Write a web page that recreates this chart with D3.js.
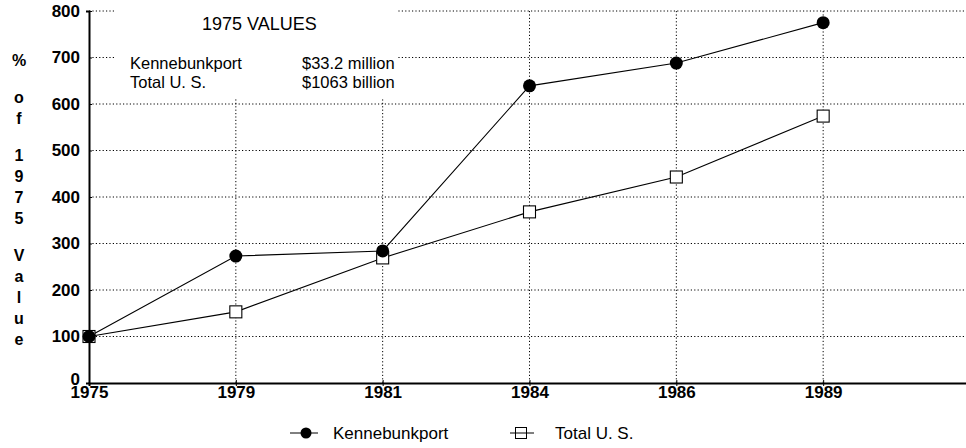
<!DOCTYPE html>
<html>
<head>
<meta charset="utf-8">
<script src="https://cdn.jsdelivr.net/npm/d3@7"></script>
<style>
  body { margin: 0; background: #fff; }
  svg { display: block; font-family: "Liberation Sans", Arial, sans-serif; }
  .grid line { stroke: #000; stroke-dasharray: 1.2 2.2; stroke-width: 1; }
</style>
</head>
<body>
<div class="lineplot"></div>
<script>
// data
var years = ["1975", "1979", "1981", "1984", "1986", "1989"];
var kennebunkport = [100, 273, 284, 639, 688, 775];
var totalUS = [100, 153, 269, 368, 443, 574];
var yTicks = [0, 100, 200, 300, 400, 500, 600, 700, 800];
var yLabelWords = ["%", "of", "1975", "Value"];
var noteTitle = "1975 VALUES";
var noteRows = [["Kennebunkport", "$33.2 million"], ["Total U. S.", "$1063 billion"]];
var legendNames = ["Kennebunkport", "Total U. S."];

var width = 966, height = 448;

var svg = d3.select(".lineplot").append("svg")
    .attr("width", width)
    .attr("height", height);

// scales - last slot left empty on the right
var x = d3.scaleLinear().domain([0, 6]).range([89, 970]);
var y = d3.scaleLinear().domain([0, 800]).range([383, 11]);

// grid
var grid = svg.append("g").attr("class", "grid");
grid.selectAll(".hg").data(yTicks.filter(d => d > 0))
  .enter().append("line")
    .attr("x1", x(0)).attr("x2", width)
    .attr("y1", d => y(d)).attr("y2", d => y(d));
grid.selectAll(".vg").data(years.slice(1))
  .enter().append("line")
    .attr("x1", (d, i) => x(i + 1)).attr("x2", (d, i) => x(i + 1))
    .attr("y1", y(800)).attr("y2", y(0));

// note box covers the grid
svg.append("rect")
  .attr("x", 115).attr("y", 0)
  .attr("width", 283).attr("height", 98)
  .style("fill", "#fff");

svg.append("text")
  .attr("x", 202).attr("y", 30)
  .style("font-size", "18px")
  .text(noteTitle);

noteRows.forEach(function(r, i) {
  svg.append("text").attr("x", 130).attr("y", 69 + i * 19)
    .style("font-size", "16.5px").text(r[0]);
  svg.append("text").attr("x", 302).attr("y", 69 + i * 19)
    .style("font-size", "16.5px").text(r[1]);
});

// lines
var line = d3.line()
    .x((d, i) => x(i))
    .y(d => y(d));

svg.append("path")
  .attr("d", line(kennebunkport))
  .attr("stroke", "#000").attr("stroke-width", 1.1)
  .style("fill", "none");

svg.append("path")
  .attr("d", line(totalUS))
  .attr("stroke", "#000").attr("stroke-width", 1.1)
  .style("fill", "none");

// axes
var yAxis = svg.append("g")
  .attr("transform", "translate(" + x(0) + ",0)")
  .call(d3.axisLeft(y).tickValues(yTicks).tickSize(3).tickPadding(6));
yAxis.select(".domain").attr("stroke-width", 2);
yAxis.selectAll(".tick line").attr("x2", 3);
yAxis.selectAll("text").style("font-size", "17px").style("font-weight", "bold").attr("fill", "#000");
// the 0 label sits a little higher so it clears 1975
yAxis.selectAll(".tick text").filter(d => d === 0).attr("y", -4);

var xAxis = svg.append("g")
  .attr("transform", "translate(0," + y(0) + ")")
  .call(d3.axisBottom(x).tickValues(d3.range(years.length))
    .tickFormat(i => years[i]).tickSize(3).tickPadding(0));
xAxis.select(".domain").attr("stroke-width", 2);
xAxis.selectAll(".tick line").attr("y1", -3);
xAxis.selectAll("text").style("font-size", "17px").style("font-weight", "bold").attr("fill", "#000");

// markers
svg.selectAll(".sq").data(totalUS)
  .enter().append("rect")
    .attr("x", (d, i) => x(i) - 6).attr("y", d => y(d) - 6)
    .attr("width", 12).attr("height", 12)
    .style("fill", "#fff").attr("stroke", "#000").attr("stroke-width", 1.1);

svg.selectAll(".dot").data(kennebunkport)
  .enter().append("circle")
    .attr("cx", (d, i) => x(i)).attr("cy", d => y(d))
    .attr("r", 6.5)
    .style("fill", "#000");

// y label, one character per row, a gap between words
var labelChars = [];
var cy = 60;
yLabelWords.forEach(function(w) {
  w.split("").forEach(function(c) { labelChars.push({c: c, y: cy}); cy += 21; });
  cy += 16;
});
svg.append("g").selectAll("text").data(labelChars)
  .enter().append("text")
    .attr("x", 19).attr("y", d => d.y + 6)
    .attr("text-anchor", "middle")
    .style("font-size", "16px").style("font-weight", "bold")
    .text(d => d.c);

// legend
var lg = svg.append("g");
lg.append("line").attr("x1", 290).attr("x2", 318).attr("y1", 433).attr("y2", 433).attr("stroke", "#000");
lg.append("circle").attr("cx", 306).attr("cy", 433).attr("r", 5.5).style("fill", "#000");
lg.append("text").attr("x", 333).attr("y", 439).style("font-size", "17px").text(legendNames[0]);
lg.append("line").attr("x1", 510).attr("x2", 534).attr("y1", 433).attr("y2", 433).attr("stroke", "#000");
lg.append("rect").attr("x", 515.5).attr("y", 427.5).attr("width", 11).attr("height", 11)
  .style("fill", "none").attr("stroke", "#000");
lg.append("text").attr("x", 555).attr("y", 439).style("font-size", "17px").text(legendNames[1]);
</script>
</body>
</html>
